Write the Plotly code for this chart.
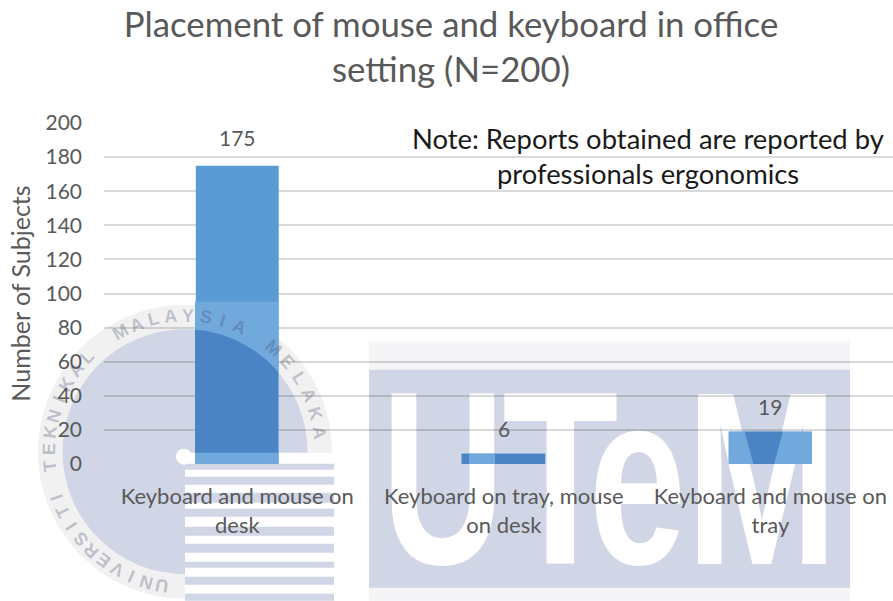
import numpy as np
import plotly.graph_objects as go

# Chart data
categories = ["Keyboard and mouse on<br>desk", "Keyboard on tray, mouse<br>on desk", "Keyboard and mouse on<br>tray"]
subjects = [175, 6, 19]
label_gaps = [15, 12, 12]
title_text = "Placement of mouse and keyboard in office<br>setting (N=200)"
note_lines = ["Note: Reports obtained are reported by", "professionals ergonomics"]
y_ticks = list(range(0, 201, 20))

# Frame of the plotting area in page pixels
W, H = 893, 601
LEFT, TOP, BOTTOM = 104, 123.3, 464.3
FONT = "Lato"
TEXT = "#595959"
BLUE = "#5b9bd5"
SEAL = "#d0d6e6"
BAR_DARK = "#4a84c4"
BAR_LIGHT = "#72a9dc"

def px(x):
    return (x - LEFT) / (W - LEFT)

def py(y):
    return (BOTTOM - y) / (BOTTOM - TOP)

def rect(x0, y0, x1, y1, color, layer="below"):
    return dict(type="rect", xref="paper", yref="paper", layer=layer,
                x0=px(x0), x1=px(x1), y0=py(y0), y1=py(y1),
                fillcolor=color, line_width=0)

def disc(cx, cy, r, color):
    return dict(type="circle", xref="paper", yref="paper", layer="below",
                x0=px(cx - r), x1=px(cx + r), y0=py(cy - r), y1=py(cy + r),
                fillcolor=color, line_width=0)

def polygon(points, color):
    d = "M" + " L".join(f"{px(x):.5f},{py(y):.5f}" for x, y in points) + " Z"
    return dict(type="path", xref="paper", yref="paper", layer="above",
                path=d, fillcolor=color, line_width=0)

fig = go.Figure(go.Bar(x=categories, y=subjects, marker_color=BLUE,
                       marker_line_width=0, hoverinfo="skip"))

# University seal and striped block behind the chart
CX, CY, R_OUTER, R_INNER = 185, 452, 147, 122.5
shapes = [disc(CX, CY, R_OUTER, "#f1f1f2"), disc(CX, CY, R_INNER, SEAL),
          rect(185, 453, 334, 601, "#ffffff")]
stripe_bands = [(464, 470), (477, 485), (493, 503), (509, 517), (527, 536),
                (544, 553), (562, 568), (577, 585), (594, 601)]
shapes += [rect(185, a, 334, b, SEAL) for a, b in stripe_bands]
shapes.append(disc(184, 457, 8, "#ffffff"))

# UTeM wordmark panel
shapes += [rect(369, 342, 850, 601, "#f5f5f7"), rect(369, 370, 850, 588, SEAL)]

# Tints where the wordmark and seal show through the bars
BAR1 = (195, 278)
shapes.append(rect(BAR1[0], 302, BAR1[1], BOTTOM, BAR_LIGHT, "above"))
arc_x = np.linspace(BAR1[0], BAR1[1], 30)
arc_y = CY - np.sqrt(R_INNER ** 2 - (arc_x - CX) ** 2)
shapes.append(polygon(list(zip(arc_x, arc_y)) + [(BAR1[1], 453), (BAR1[0], 453)], BAR_DARK))
shapes += [rect(461.5, 454, 545, BOTTOM, BAR_DARK, "above"),
           rect(469, 454, 495, BOTTOM, BAR_LIGHT, "above"),
           rect(728.5, 432, 811.6, BOTTOM, BAR_LIGHT, "above"),
           polygon([(744.7, 432), (782.8, 432), (774.2, BOTTOM), (753.4, BOTTOM)], BAR_DARK)]

annotations = []

# Wordmark letters; the page script below narrows them and moves them behind the grid
wordmark = [("U", 443), ("T", 560.5), ("e", 637.5), ("M", 762)]
wordmark_scale = [0.69, 0.77, 0.71, 0.74]
for ch, xc in wordmark:
    annotations.append(dict(text=f"<b>{ch}</b>", xref="paper", yref="paper", x=px(xc), y=py(478),
                            xanchor="center", yanchor="middle", showarrow=False, borderpad=0,
                            font=dict(family="Liberation Sans", size=247, color="#ffffff")))

# Seal lettering, set letter by letter around the ring
seal_words = [("UNIVERSITI", 189.7, 250.5), ("TEKNIKAL", 264, 314),
              ("MALAYSIA", 331.6, 383.5), ("MELAKA", 400.5, 442)]
R_TEXT = 136
for word, a0, a1 in seal_words:
    for ch, ang in zip(word, np.linspace(a0, a1, len(word))):
        t = np.radians(ang)
        annotations.append(dict(text=f"<b>{ch}</b>", xref="paper", yref="paper",
                                x=px(CX + R_TEXT * np.sin(t)), y=py(CY - R_TEXT * np.cos(t)),
                                xanchor="center", yanchor="middle", showarrow=False,
                                textangle=float(ang % 360), borderpad=0,
                                font=dict(family="Liberation Sans", size=18,
                                          color="rgba(60,70,100,0.3)")))

# Value labels above the bars
for cat, val, gap in zip(categories, subjects, label_gaps):
    annotations.append(dict(text=str(val), x=cat, y=val, yshift=gap, xanchor="center",
                            yanchor="bottom", showarrow=False, borderpad=0,
                            font=dict(family=FONT, size=21, color=TEXT)))

# Note in the upper right of the plot
for line, yc in zip(note_lines, (139, 174)):
    annotations.append(dict(text=line, xref="paper", yref="paper", x=px(648), y=py(yc),
                            xanchor="center", yanchor="middle", showarrow=False,
                            font=dict(family=FONT, size=27.4, color="#1a1a1a")))

fig.update_layout(
    width=W, height=H, autosize=False,
    margin=dict(l=LEFT, r=0, t=TOP, b=H - BOTTOM),
    paper_bgcolor="#ffffff", plot_bgcolor="rgba(0,0,0,0)",
    showlegend=False, bargap=0.689, shapes=shapes, annotations=annotations,
    title=dict(text=title_text, x=451 / W, xanchor="center", y=1 - 36.5 / H, yanchor="middle",
               font=dict(family=FONT, size=34.8, color=TEXT)),
    xaxis=dict(type="category", range=[-0.5, 2.46], showgrid=False, showline=False,
               zeroline=False, ticks="", ticklabelstandoff=17,
               tickfont=dict(family=FONT, size=22, color=TEXT)),
    yaxis=dict(range=[0, 200], tickvals=y_ticks, showline=False, zeroline=False, ticks="",
               gridcolor="rgba(0,0,0,0.15)", gridwidth=2, ticklabelstandoff=21,
               tickfont=dict(family=FONT, size=21, color=TEXT),
               title=dict(text="Number of Subjects", standoff=7,
                          font=dict(family=FONT, size=25, color=TEXT))),
)

scales = ",".join(str(s) for s in wordmark_scale)
page_script = f"""
var gd = document.getElementById('{{plot_id}}');
var below = gd.querySelector('.layer-below');
[{scales}].forEach(function (s, i) {{
  var g = gd.querySelector('.annotation[data-index="' + i + '"]');
  var b = g.getBBox();
  var cx = b.x + b.width / 2;
  g.setAttribute('transform', 'translate(' + cx + ',0) scale(' + s + ',1) translate(' + (-cx) + ',0)');
  below.appendChild(g);
}});
"""

fig.write_html("out.html", post_script=page_script, config=dict(displayModeBar=False))
